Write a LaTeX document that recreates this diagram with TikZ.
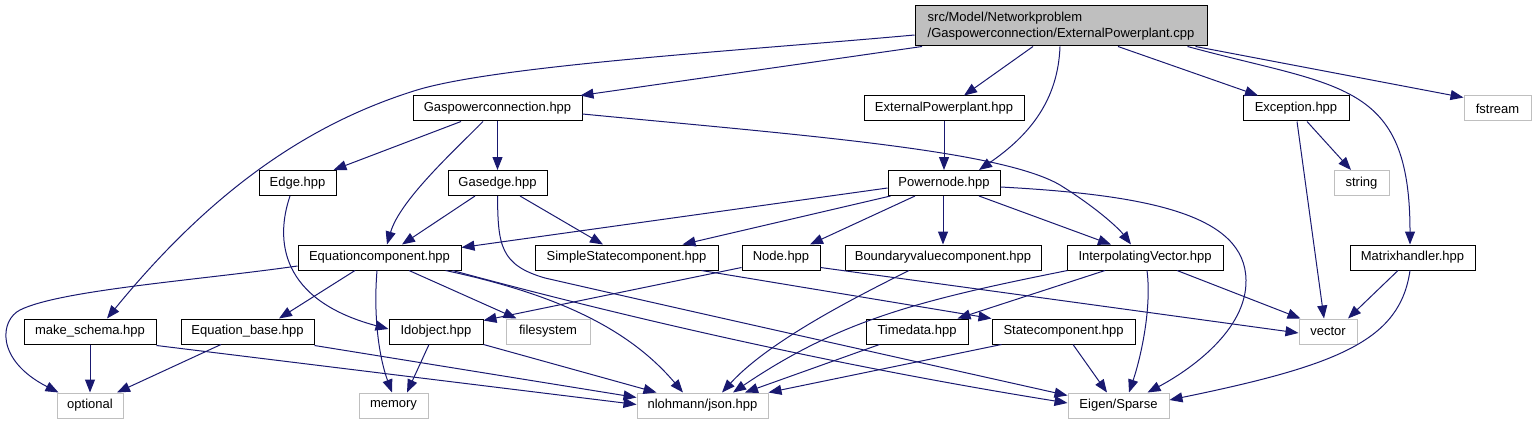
\documentclass[tikz,border=0pt]{standalone}
\usepackage{fontspec}
\setmainfont{Liberation Sans}
\usetikzlibrary{arrows.meta}
\definecolor{edgeblue}{HTML}{191970}
\definecolor{extgray}{HTML}{BFBFBF}
\begin{document}
\begin{tikzpicture}[x=1pt,y=-1pt,
  box/.style={draw=black,fill=white,line width=1pt,inner sep=0pt,minimum height=25pt,font=\fontsize{13}{16}\selectfont},
  ext/.style={box,draw=extgray},
  mainbox/.style={box,fill=extgray,minimum height=40pt,align=left},
  dep/.style={draw=edgeblue,line width=1pt,-{Triangle[length=13pt,width=10pt]}}]
\useasboundingbox (0,0) rectangle (1536,425);
% nodes
\node[mainbox,minimum width=292pt] (main) at (1061,26) {src/Model/Networkproblem\\/Gaspowerconnection/ExternalPowerplant.cpp};
\node[box,minimum width=169pt] (gpc) at (497.5,108.5) {Gaspowerconnection.hpp};
\node[box,minimum width=160pt] (epp) at (944,108.5) {ExternalPowerplant.hpp};
\node[box,minimum width=106pt] (exc) at (1296,108.5) {Exception.hpp};
\node[ext,minimum width=67pt] (fst) at (1497.5,108.5) {fstream};
\node[box,minimum width=77pt] (edge) at (297.5,183) {Edge.hpp};
\node[box,minimum width=99pt] (gas) at (497.5,183) {Gasedge.hpp};
\node[box,minimum width=112pt] (pwn) at (944,183) {Powernode.hpp};
\node[ext,minimum width=55pt] (str) at (1361.5,183) {string};
\node[box,minimum width=163pt] (eqc) at (379.5,257.5) {Equationcomponent.hpp};
\node[box,minimum width=183pt] (ssc) at (626.5,257.5) {SimpleStatecomponent.hpp};
\node[box,minimum width=78pt] (nd) at (781,257.5) {Node.hpp};
\node[box,minimum width=196pt] (bvc) at (943,257.5) {Boundaryvaluecomponent.hpp};
\node[box,minimum width=156pt] (ipv) at (1145,257.5) {InterpolatingVector.hpp};
\node[box,minimum width=125pt] (mxh) at (1412.5,257.5) {Matrixhandler.hpp};
\node[box,minimum width=132pt] (msc) at (90,331.5) {make\_schema.hpp};
\node[box,minimum width=133pt] (eqb) at (247.5,331.5) {Equation\_base.hpp};
\node[box,minimum width=94pt] (ido) at (436,331.5) {Idobject.hpp};
\node[ext,minimum width=84pt] (fs) at (548,331.5) {filesystem};
\node[box,minimum width=102pt] (tim) at (917,331.5) {Timedata.hpp};
\node[box,minimum width=143pt] (stc) at (1063.5,331.5) {Statecomponent.hpp};
\node[ext,minimum width=58pt] (vec) at (1328,331.5) {vector};
\node[ext,minimum width=66pt] (opt) at (90,405.5) {optional};
\node[ext,minimum width=69pt] (mem) at (393.5,405.5) {memory};
\node[ext,minimum width=131pt] (json) at (702.5,405.5) {nlohmann/json.hpp};
\node[ext,minimum width=101pt] (eig) at (1118.5,405.5) {Eigen/Sparse};
% edges from main
\draw[dep] ([yshift=-9pt]main.west) .. controls (750,50) and (500,65) .. (417,90) .. controls (320,120) and (220,180) .. ([xshift=17pt]msc.north);
\draw[dep] ([xshift=-139pt]main.south) -- ([xshift=-2pt]gpc.north east);
\draw[dep] ([xshift=-28pt]main.south) -- ([xshift=20pt]epp.north);
\draw[dep] ([xshift=-1pt]main.south) .. controls (1058,100) and (1030,135) .. ([xshift=35pt]pwn.north);
\draw[dep] ([xshift=57pt]main.south) -- ([xshift=-38pt]exc.north);
\draw[dep] ([xshift=-20pt]main.south east) .. controls (1340,88) and (1410,80) .. ([xshift=-2.5pt]mxh.north);
\draw[dep] ([xshift=-12pt]main.south east) -- ([yshift=-2pt]fst.north west);
% Gaspowerconnection
\draw[dep] ([xshift=-36.5pt]gpc.south) -- ([xshift=-3pt]edge.north east);
\draw[dep] ([xshift=-14.5pt]gpc.south) .. controls (455,150) and (400,200) .. ([xshift=7.5pt]eqc.north);
\draw[dep] (gpc) -- (gas);
\draw[dep] ([yshift=-5.5pt]gpc.east) .. controls (800,135) and (1000,150) .. (1060,185) .. controls (1100,210) and (1120,230) .. ([xshift=-14pt]ipv.north);
% ExternalPowerplant, Exception
\draw[dep] (epp) -- (pwn);
\draw[dep] ([xshift=11pt]exc.south) -- ([xshift=-10.5pt]str.north);
\draw[dep] ([xshift=1pt]exc.south) -- ([xshift=-4pt]vec.north);
% Edge, Gasedge
\draw[dep] ([xshift=-7.5pt]edge.south) .. controls (275,240) and (280,300) .. ([yshift=2.5pt]ido.west);
\draw[dep] ([xshift=-22.5pt]gas.south) -- ([xshift=22.5pt]eqc.north);
\draw[dep] ([xshift=22.5pt]gas.south) -- ([xshift=-23.5pt]ssc.north);
\draw[dep] (gas.south) .. controls (498,245) and (500,265) .. (545,278) .. controls (720,318) and (900,358) .. ([yshift=-3pt]eig.north west);
% Powernode
\draw[dep] ([yshift=-5pt]pwn.west) -- ([yshift=-3pt]eqc.north east);
\draw[dep] ([xshift=3pt]pwn.south west) -- ([xshift=56pt]ssc.north);
\draw[dep] ([xshift=-29pt]pwn.south) -- ([xshift=29pt]nd.north);
\draw[dep] ([xshift=-1pt]pwn.south) -- (bvc.north);
\draw[dep] ([xshift=35pt]pwn.south) -- ([xshift=-34pt]ipv.north);
\draw[dep] ([yshift=-4pt]pwn.east) .. controls (1150,195) and (1245,215) .. (1246,280) .. controls (1247,330) and (1190,370) .. ([xshift=29pt]eig.north);
% Equationcomponent
\draw[dep] ([yshift=-8.5pt]eqc.west) .. controls (200,280) and (60,290) .. (20,310) .. controls (0,320) and (-5,360) .. ([xshift=2pt]opt.north west);
\draw[dep] ([xshift=-24.5pt]eqc.south) -- ([xshift=31.5pt]eqb.north);
\draw[dep] ([xshift=-2.5pt]eqc.south) .. controls (373,320) and (380,360) .. ([xshift=-1.5pt]mem.north);
\draw[dep] ([xshift=29.5pt]eqc.south) -- ([xshift=11pt]fs.north west);
\draw[dep] ([xshift=-16pt]eqc.south east) .. controls (560,295) and (630,330) .. ([xshift=-19.5pt]json.north);
\draw[dep] ([xshift=-9pt]eqc.south east) .. controls (580,305) and (800,360) .. ([yshift=2.5pt]eig.west);
% row 3 others
\draw[dep] ([xshift=-17pt]ssc.south east) -- (stc.north west);
\draw[dep] ([yshift=3pt]nd.south west) -- ([yshift=-2pt]ido.north east);
\draw[dep] ([yshift=3pt]nd.south east) -- ([yshift=-1.5pt]vec.west);
\draw[dep] ([xshift=-34pt]bvc.south) .. controls (860,295) and (770,340) .. ([xshift=19.5pt]json.north);
\draw[dep] ([xshift=1pt]ipv.south west) .. controls (920,300) and (840,320) .. ([xshift=30.5pt]json.north);
\draw[dep] ([xshift=-40pt]ipv.south) -- ([xshift=-11pt]tim.north east);
\draw[dep] ([xshift=2pt]ipv.south) .. controls (1152,310) and (1140,360) .. ([xshift=10.5pt]eig.north);
\draw[dep] ([xshift=32pt]ipv.south) -- ([xshift=2pt]vec.north west);
\draw[dep] ([xshift=-14.5pt]mxh.south) -- ([xshift=20pt]vec.north);
\draw[dep] ([xshift=-2.5pt]mxh.south) .. controls (1400,340) and (1340,365) .. ([yshift=5.5pt]eig.east);
% row 4
\draw[dep] (msc) -- (opt);
\draw[dep] ([yshift=-1pt]msc.south east) -- ([yshift=1pt]json.west);
\draw[dep] ([xshift=-26.5pt]eqb.south) -- ([xshift=27pt]opt.north);
\draw[dep] ([yshift=-1pt]eqb.south east) -- ([yshift=8pt]json.west);
\draw[dep] ([xshift=-7pt]ido.south) -- ([xshift=13.5pt]mem.north);
\draw[dep] (ido.south east) -- ([xshift=20pt]json.north west);
\draw[dep] ([xshift=14pt]tim.south west) -- ([xshift=42.5pt]json.north);
\draw[dep] ([xshift=10pt]stc.south west) -- (json.north east);
\draw[dep] ([xshift=9.5pt]stc.south) -- ([xshift=-11.5pt]eig.north);
\end{tikzpicture}
\end{document}
